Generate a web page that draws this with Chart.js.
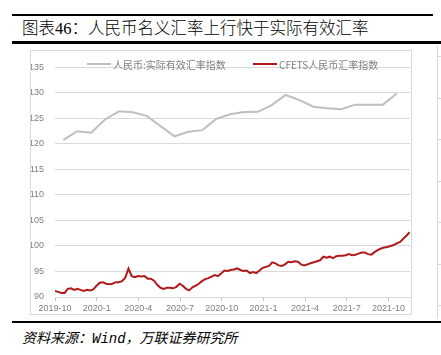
<!DOCTYPE html>
<html>
<head>
<meta charset="utf-8">
<script src="https://cdn.jsdelivr.net/npm/chart.js@4.4.0/dist/chart.umd.min.js"></script>
<style>
  html, body { margin: 0; padding: 0; background: #fff; }
  body { width: 441px; height: 355px; position: relative; overflow: hidden; }
  .rule { position: absolute; background: #000; }
  #title { position: absolute; left: 22px; top: 18px; font: 300 16.5px "Liberation Serif", "Noto Sans CJK SC", serif; color: #000; white-space: nowrap; line-height: 22px; }
  #box { position: absolute; left: 30px; top: 50px; width: 382px; height: 265px; border: 1px solid #d9d9d9; box-sizing: border-box; }
  #box canvas { position: absolute; left: 0; top: 0; }
  #side { position: absolute; left: 437px; top: 46px; width: 4px; height: 272px; border-left: 1px solid #d9d9d9;
          background: repeating-linear-gradient(to bottom, transparent 0, transparent 10px, #d9d9d9 10px, #d9d9d9 11px, transparent 11px, transparent 41.5px); }
  #source { position: absolute; left: 22px; top: 327px; font: italic 14px "Noto Sans CJK SC", sans-serif; color: #000; white-space: nowrap; line-height: 20px; }
  #source .en { font-family: "Liberation Mono", monospace; }
</style>
</head>
<body>
<div class="rule" style="left:12px; top:14px; width:421px; height:2px;"></div>
<div id="title">图表46：人民币名义汇率上行快于实际有效汇率</div>
<div class="rule" style="left:12px; top:41px; width:429px; height:3px;"></div>
<div id="box"><canvas id="c" width="380" height="263"></canvas></div>
<div id="side"></div>
<div class="rule" style="left:12px; top:321px; width:429px; height:2px;"></div>
<div id="source">资料来源：<span class="en">Wind</span>，万联证券研究所</div>
<script>
// x tick labels, one per quarter starting 2019-10
const tickLabels = ['2019-10', '2020-1', '2020-4', '2020-7', '2020-10', '2021-1', '2021-4', '2021-7', '2021-10'];
const yMin = 90, yMax = 135, yStep = 5;

// monthly, 2019-10 .. 2021-10
const reerLabel = '人民币:实际有效汇率指数';
const reerValues = [120.8, 122.5, 122.2, 124.8, 126.4, 126.2, 125.5, 123.5, 121.5, 122.4, 122.7, 124.9, 125.8,
  126.25, 126.3, 127.6, 129.6, 128.6, 127.3, 127.0, 126.8, 127.7, 127.7, 127.7, 129.9];

// weekly, from early 2019-10
const cfetsLabel = 'CFETS人民币汇率指数';
const cfetsValues = [91.2, 91.0, 90.8, 90.8, 91.6, 91.7, 91.4, 91.6, 91.4, 91.2,
  91.4, 91.3, 91.5, 92.2, 92.8, 92.9, 92.6, 92.5, 92.6, 92.9,
  92.9, 93.1, 93.8, 95.6, 94.1, 93.9, 94.1, 94.0, 94.1, 93.6,
  93.6, 93.2, 92.4, 91.8, 91.6, 91.8, 91.8, 91.7, 92.0, 92.6,
  92.2, 91.6, 91.3, 91.9, 92.2, 92.6, 93.1, 93.5, 93.7, 94.0,
  94.3, 94.1, 94.6, 95.2, 95.1, 95.3, 95.4, 95.6, 95.3, 95.1,
  95.2, 94.7, 94.9, 94.7, 95.2, 95.7, 95.9, 96.1, 96.8, 96.6,
  96.2, 96.1, 96.4, 96.9, 96.8, 97.0, 96.9, 96.4, 96.2, 96.4,
  96.6, 96.8, 97.0, 97.2, 97.9, 97.7, 97.9, 97.6, 98.0, 98.1,
  98.1, 98.2, 98.4, 98.2, 98.3, 98.5, 98.7, 98.7, 98.4, 98.3,
  98.8, 99.2, 99.5, 99.7, 99.8, 100.0, 100.2, 100.5, 100.8, 101.4,
  102.0, 102.7];

const GRAY = '#bfbfbf';
const RED = '#b01a1a';
const WEEK = 7 / 30.44; // in months

// x is measured in months since 2019-10
const reerData = reerValues.map((v, i) => ({ x: i + 0.6, y: v }));
const cfetsData = cfetsValues.map((v, i) => ({ x: i * WEEK, y: v }));

const legendPlugin = {
  id: 'insideLegend',
  afterDraw(chart) {
    const ctx = chart.ctx;
    const starts = [56, 222];
    ctx.save();
    ctx.font = '10px "Noto Sans CJK SC", sans-serif';
    ctx.textBaseline = 'middle';
    chart.data.datasets.forEach((ds, i) => {
      const x = starts[i], y = 13;
      ctx.strokeStyle = ds.borderColor;
      ctx.lineWidth = 2;
      ctx.beginPath();
      ctx.moveTo(x, y);
      ctx.lineTo(x + 24, y);
      ctx.stroke();
      ctx.fillStyle = '#7f7f7f';
      ctx.fillText(ds.label, x + 26, y + 1);
    });
    ctx.restore();
  }
};

new Chart(document.getElementById('c').getContext('2d'), {
  type: 'line',
  data: {
    datasets: [
      { label: reerLabel, data: reerData, borderColor: GRAY, backgroundColor: GRAY, borderWidth: 2, pointRadius: 0, tension: 0 },
      { label: cfetsLabel, data: cfetsData, borderColor: RED, backgroundColor: RED, borderWidth: 2, pointRadius: 0, tension: 0 }
    ]
  },
  options: {
    responsive: false,
    animation: false,
    layout: { padding: { left: 0, right: 1, top: 5, bottom: 0 } },
    plugins: { legend: { display: false }, tooltip: { enabled: false } },
    scales: {
      x: {
        type: 'linear',
        min: 0,
        max: 25.55,
        afterBuildTicks: (scale) => { scale.ticks = tickLabels.map((t, i) => ({ value: i * 3 })); },
        afterFit: (scale) => { scale.height = 17; },
        ticks: {
          autoSkip: false, maxRotation: 0, padding: 2,
          color: '#7f7f7f', font: { family: 'Liberation Sans', size: 9 },
          callback: (v, i) => tickLabels[i]
        },
        grid: { drawOnChartArea: false, drawTicks: true, tickLength: 4, color: '#bfbfbf' },
        border: { display: true, color: '#d9d9d9' }
      },
      y: {
        min: yMin,
        max: yMax,
        afterFit: (scale) => { scale.width = 24; },
        ticks: { stepSize: yStep, padding: 11, color: '#7f7f7f', font: { family: 'Liberation Sans', size: 9 } },
        grid: { color: '#d9d9d9', drawTicks: false },
        border: { display: false }
      }
    }
  },
  plugins: [legendPlugin]
});
</script>
</body>
</html>
